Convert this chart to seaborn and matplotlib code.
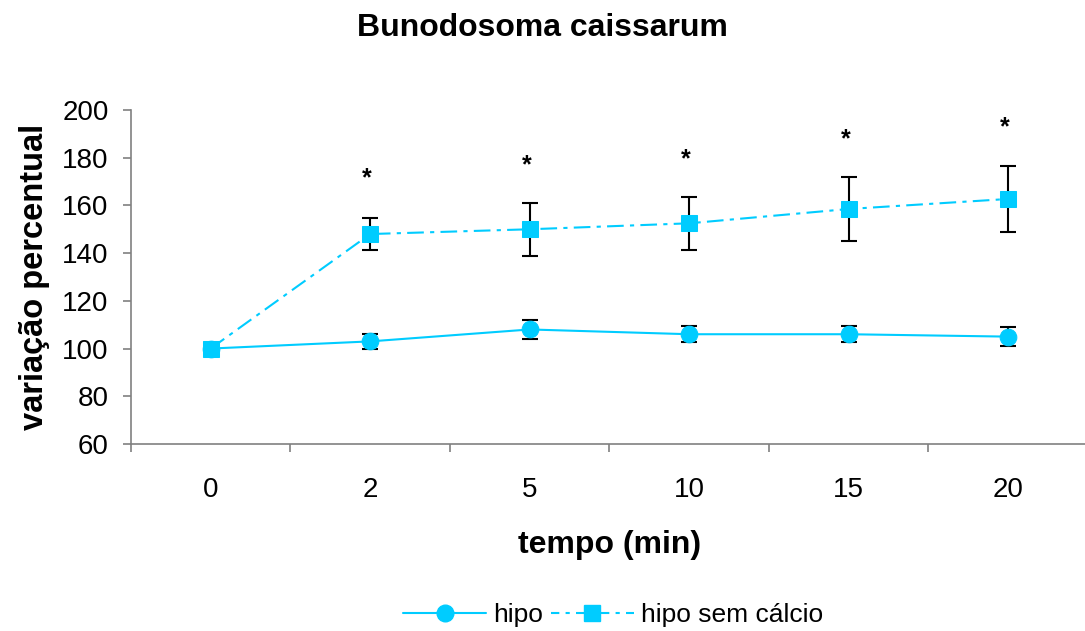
import matplotlib
matplotlib.use("Agg")
import matplotlib.pyplot as plt
import matplotlib.transforms as mtransforms
import seaborn as sns
import pandas as pd
from matplotlib.lines import Line2D

# ---- data ----
tempo = ["0", "2", "5", "10", "15", "20"]
hipo = [100, 103, 108, 106, 106, 105]
hipo_err = [0, 3, 3.8, 3.4, 3.4, 4]
sem_calcio = [100, 148, 150, 152.5, 158.5, 162.7]
sem_calcio_err = [0, 6.7, 11, 11, 13.4, 14]
star_y = [None, 173.5, 179, 181.5, 190, 195]

title = "Bunodosoma caissarum"
xlabel = "tempo (min)"
ylabel = "variação percentual"
labels = ["hipo", "hipo sem cálcio"]

color = "#00CCFF"

sns.set_theme(style="white")
plt.rcParams["font.family"] = ["Liberation Sans", "DejaVu Sans"]
plt.rcParams["text.color"] = "black"
plt.rcParams["axes.labelcolor"] = "black"
plt.rcParams["xtick.color"] = "black"
plt.rcParams["ytick.color"] = "black"

fig = plt.figure(figsize=(10.85, 6.31), dpi=100)
ax = fig.add_axes([0.1207, 0.2964, 0.882, 0.5293])

df1 = pd.DataFrame({"tempo": tempo, "v": hipo})
df2 = pd.DataFrame({"tempo": tempo, "v": sem_calcio})

# error bars (behind)
ax.errorbar(tempo, sem_calcio, yerr=sem_calcio_err, fmt="none", ecolor="black",
            elinewidth=1.5, capsize=6, capthick=1.5, zorder=2)
ax.errorbar(tempo, hipo, yerr=hipo_err, fmt="none", ecolor="black",
            elinewidth=1.5, capsize=6, capthick=1.5, zorder=2)

sns.lineplot(data=df1, x="tempo", y="v", ax=ax, color=color, marker="o",
             markersize=12, markeredgecolor=color, linewidth=1.5, sort=False,
             zorder=3)
sns.lineplot(data=df2, x="tempo", y="v", ax=ax, color=color, marker="s",
             markersize=11, markeredgecolor=color, linewidth=1.5, sort=False,
             linestyle=(0, (8, 3, 2, 3)), zorder=4)

star_tr = mtransforms.offset_copy(ax.transData, fig=fig, y=-4, units="points")
for i, sy in enumerate(star_y):
    if sy is not None:
        ax.text(i - 0.02, sy, "*", ha="center", va="center", fontsize=18,
                fontweight="bold", color="black", transform=star_tr)

ax.set_ylim(60, 200)
ax.set_yticks(range(60, 201, 20))
ax.set_xlim(-0.5, len(tempo) - 0.5)

# x ticks at category boundaries, labels at centers
ax.set_xticks([i + 0.5 for i in range(-1, len(tempo))], minor=False)
ax.set_xticklabels([""] * (len(tempo) + 1))
ax.set_xticks(range(len(tempo)), minor=True)
ax.set_xticklabels(tempo, minor=True)
ax.tick_params(axis="x", which="major", direction="out", length=6, width=1.2,
               color="#808080", bottom=True)
ax.tick_params(axis="x", which="minor", length=0, pad=24, labelsize=20,
               labelcolor="black")
ax.tick_params(axis="y", direction="out", length=6, width=1.2, color="#808080",
               left=True, pad=10, labelsize=20, labelcolor="black")

for s in ["top", "right"]:
    ax.spines[s].set_visible(False)
for s in ["left", "bottom"]:
    ax.spines[s].set_color("#808080")
    ax.spines[s].set_linewidth(1.2)

ax.set_xlabel("")
ax.set_ylabel("")
fig.text(0.5, 0.955, title, ha="center", va="center", fontsize=23,
         fontweight="bold", color="black")
fig.text(0.562, 0.137, xlabel, ha="center", va="center", fontsize=23,
         fontweight="bold", color="black")
fig.text(0.032, 0.561, ylabel, ha="center", va="center", fontsize=23.5,
         fontweight="bold", rotation=90, color="black")

handles = [
    Line2D([], [], color=color, marker="o", markersize=12, linewidth=1.5),
    Line2D([], [], color=color, marker="s", markersize=11, linewidth=1.5,
           linestyle=(0, (4, 3, 2, 3))),
]
fig.legend(handles, labels, loc="center", bbox_to_anchor=(0.565, 0.025),
           ncol=2, frameon=False, fontsize=19, handlelength=3.15,
           columnspacing=0.3, handletextpad=0.25, labelcolor="black")

fig.savefig("out.png", dpi=100)
